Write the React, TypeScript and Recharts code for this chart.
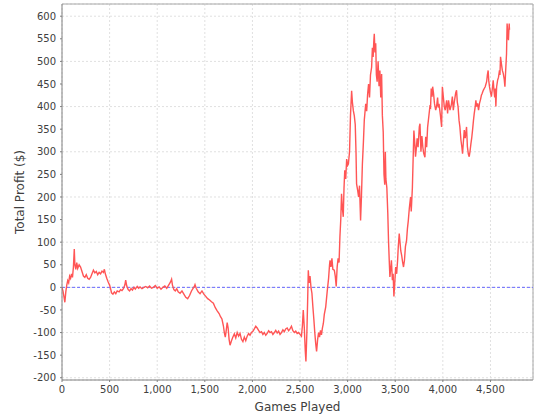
import { LineChart, Line, XAxis, YAxis, CartesianGrid, ReferenceLine } from 'recharts';

// hands played (x) and running profit in $ (y)
const games = [
  0, 10, 20, 30, 40, 50, 60, 70, 80, 90, 100, 110, 120, 129, 135, 145, 155, 165, 180, 195,
  210, 225, 240, 255, 270, 285, 300, 315, 330, 345, 360, 375, 390, 405, 420, 435, 445, 455, 470, 485,
  500, 510, 520, 535, 550, 565, 580, 600, 615, 630, 645, 660, 669, 680, 695, 710, 725, 740, 755, 770,
  790, 805, 820, 840, 860, 880, 900, 920, 940, 960, 980, 1000, 1020, 1040, 1060, 1080, 1100, 1120, 1140, 1151,
  1160, 1175, 1190, 1205, 1220, 1240, 1260, 1280, 1300, 1320, 1340, 1360, 1375, 1390, 1397, 1410, 1430, 1450, 1470, 1490,
  1510, 1530, 1550, 1570, 1590, 1610, 1630, 1650, 1665, 1680, 1695, 1705, 1715, 1725, 1735, 1745, 1755, 1765, 1780, 1795,
  1810, 1825, 1840, 1855, 1870, 1885, 1900, 1915, 1930, 1945, 1960, 1975, 1990, 2005, 2020, 2035, 2050, 2065, 2080, 2095,
  2110, 2125, 2140, 2155, 2170, 2185, 2200, 2215, 2230, 2245, 2260, 2275, 2290, 2305, 2320, 2335, 2350, 2365, 2380, 2395,
  2410, 2425, 2440, 2455, 2470, 2485, 2500, 2515, 2525, 2534, 2545, 2555, 2562, 2572, 2580, 2587, 2595, 2605, 2615, 2625,
  2635, 2645, 2655, 2665, 2674, 2685, 2695, 2705, 2715, 2725, 2735, 2745, 2755, 2770, 2785, 2800, 2810, 2815, 2825, 2835,
  2845, 2860, 2870, 2880, 2890, 2900, 2910, 2919, 2928, 2936, 2945, 2954, 2962, 2970, 2980, 2990, 3000, 3008, 3020, 3030,
  3042, 3050, 3060, 3070, 3080, 3088, 3094, 3105, 3115, 3125, 3136, 3145, 3155, 3165, 3175, 3190, 3200, 3210, 3220, 3230,
  3240, 3252, 3260, 3268, 3275, 3280, 3287, 3295, 3302, 3310, 3320, 3330, 3339, 3348, 3357, 3365, 3374, 3382, 3390, 3396,
  3402, 3412, 3422, 3430, 3437, 3444, 3452, 3460, 3470, 3478, 3486, 3495, 3505, 3515, 3525, 3532, 3542, 3550, 3558, 3568,
  3578, 3587, 3597, 3607, 3619, 3628, 3637, 3648, 3661, 3668, 3680, 3690, 3696, 3705, 3713, 3720, 3730, 3740, 3753, 3760,
  3770, 3780, 3790, 3800, 3812, 3820, 3830, 3840, 3852, 3864, 3871, 3878, 3887, 3893, 3902, 3912, 3925, 3934, 3945, 3952,
  3960, 3975, 3987, 3995, 4005, 4015, 4025, 4040, 4050, 4060, 4075, 4090, 4100, 4110, 4120, 4135, 4144, 4152, 4160, 4170,
  4179, 4190, 4200, 4207, 4215, 4225, 4235, 4249, 4258, 4268, 4277, 4285, 4295, 4303, 4312, 4322, 4330, 4340, 4347, 4355,
  4365, 4375, 4385, 4395, 4405, 4413, 4425, 4435, 4445, 4460, 4468, 4476, 4482, 4490, 4500, 4510, 4520, 4529, 4537, 4545,
  4551, 4557, 4565, 4575, 4585, 4595, 4600, 4606, 4615, 4625, 4635, 4645, 4652, 4660, 4669, 4675, 4682, 4689, 4697, 4700,
];

const profit = [
  0, -8, -20, -33, -10, 5, 15, 10, 25, 20, 30, 22, 45, 85, 50, 40, 55, 42, 50, 45,
  35, 25, 22, 28, 20, 18, 22, 30, 38, 32, 35, 28, 33, 30, 36, 33, 40, 30, 20, 12,
  5, -3, -12, -15, -10, -14, -8, -10, -5, -7, -3, 5, 16, 3, -5, -8, -3, -6, 0, -4,
  2, -2, 1, -3, 0, 2, -1, 3, -2, 0, 4, -2, 1, -4, 0, 3, -2, 5, 12, 18,
  5, -5, -8, -3, -10, -13, -8, -15, -22, -25, -18, -8, -3, 2, 6, -2, -10, -14, -8, -15,
  -20, -25, -28, -32, -35, -45, -52, -58, -65, -70, -85, -100, -110, -95, -78, -90, -115, -128, -118, -110,
  -103, -112, -100, -108, -102, -115, -120, -110, -118, -108, -102, -106, -100, -97, -92, -86, -90, -95, -100, -98,
  -104, -100, -106, -102, -96, -100, -98, -104, -100, -95, -101, -97, -104, -100, -94, -98, -92, -90, -96, -92,
  -86, -96, -100, -97, -102, -100, -104, -108, -85, -50, -90, -140, -164, -100, -30, 38, 10, 25, 0, -13,
  -43, -70, -100, -125, -142, -115, -100, -110, -95, -105, -90, -80, -60, -43, -10, 20, 50, 60, 45, 64,
  40, 38, 25, 2, 45, 64, 55, 112, 150, 207, 175, 156, 220, 259, 240, 284, 270, 273, 300, 380,
  435, 410, 391, 380, 360, 300, 229, 215, 200, 225, 148, 200, 273, 318, 370, 406, 390, 428, 450, 420,
  470, 487, 530, 510, 545, 561, 520, 540, 470, 455, 500, 445, 480, 420, 472, 380, 343, 250, 227, 300,
  240, 220, 163, 100, 60, 23, 40, 60, 16, 30, -20, 10, 45, 30, 60, 90, 119, 100, 81, 70,
  55, 45, 60, 90, 104, 130, 147, 175, 200, 168, 220, 300, 347, 320, 289, 304, 330, 310, 355, 362,
  300, 335, 310, 296, 288, 333, 310, 354, 377, 400, 398, 440, 422, 444, 430, 407, 392, 400, 420, 398,
  406, 380, 355, 444, 422, 400, 392, 414, 385, 414, 392, 405, 422, 392, 410, 430, 436, 410, 400, 370,
  355, 326, 310, 296, 320, 348, 330, 355, 311, 295, 289, 300, 318, 330, 348, 370, 385, 400, 414, 400,
  407, 392, 407, 415, 425, 429, 436, 440, 444, 455, 470, 480, 458, 444, 432, 422, 440, 458, 436, 420,
  440, 400, 444, 458, 465, 480, 470, 510, 495, 480, 473, 460, 444, 480, 517, 584, 560, 547, 584, 570,
];

const xTicks = [0, 500, 1000, 1500, 2000, 2500, 3000, 3500, 4000, 4500];
const yTicks = [-200, -150, -100, -50, 0, 50, 100, 150, 200, 250, 300, 350, 400, 450, 500, 550, 600];

const xMax = 4947;
const yMin = -205;
const yMax = 627;

const tickStyle = { fontFamily: 'DejaVu Sans', fontSize: 10, fill: '#404040' };
const labelStyle = { fontFamily: 'DejaVu Sans', fontSize: 12, fill: '#404040' };

export default function App() {
  const data = games.map((g, i) => ({ games: g, profit: profit[i] }));

  return (
    <div style={{ position: 'absolute', left: 0, top: 0, width: 540, height: 420, background: '#fff' }}>
      <LineChart width={540} height={420} data={data} margin={{ top: 4, right: 7, left: 0, bottom: 0 }}>
        <CartesianGrid stroke="#e0e0e0" strokeDasharray="2 2" />
        <XAxis
          dataKey="games"
          type="number"
          domain={[0, xMax]}
          ticks={xTicks}
          allowDataOverflow
          height={40}
          tickFormatter={(v) => v.toLocaleString('en-US')}
          tick={tickStyle}
          tickSize={2}
          tickMargin={4}
          stroke="#808080"
          label={{ value: 'Games Played', position: 'insideBottom', offset: 9, style: labelStyle }}
        />
        <YAxis
          type="number"
          domain={[yMin, yMax]}
          ticks={yTicks}
          allowDataOverflow
          width={62}
          tick={tickStyle}
          tickSize={2}
          tickMargin={4}
          stroke="#808080"
          label={{
            value: 'Total Profit ($)',
            angle: -90,
            position: 'insideLeft',
            offset: 20,
            style: { ...labelStyle, textAnchor: 'middle' },
          }}
        />
        <ReferenceLine y={yMax} stroke="#a8a8a8" />
        <ReferenceLine x={xMax} stroke="#a8a8a8" />
        <ReferenceLine y={0} stroke="#6868ff" strokeDasharray="3 2" />
        <Line
          type="linear"
          dataKey="profit"
          stroke="#ff5555"
          strokeWidth={1.4}
          dot={false}
          isAnimationActive={false}
        />
      </LineChart>
    </div>
  );
}
